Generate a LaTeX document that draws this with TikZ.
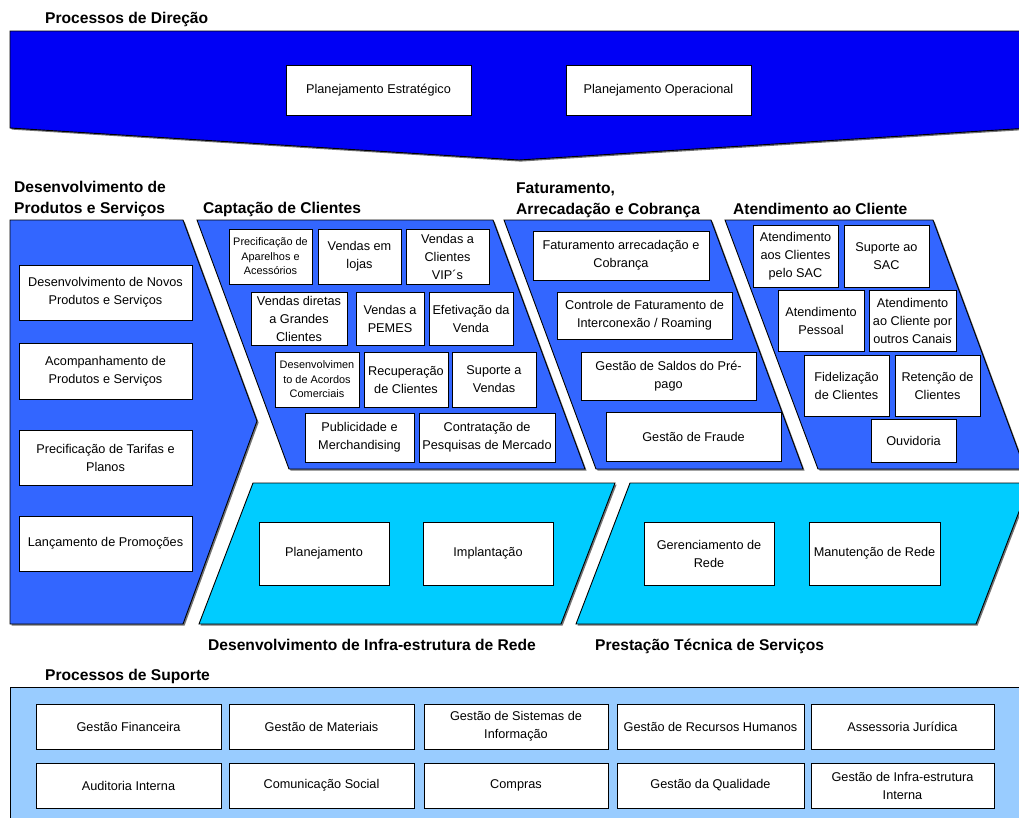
\documentclass[tikz,border=0pt]{standalone}
\usepackage{fontspec}
\setmainfont{Liberation Sans}
\usetikzlibrary{shadows}

\definecolor{dirblue}{RGB}{0,0,245}
\definecolor{midblue}{RGB}{51,102,255}
\definecolor{netcyan}{RGB}{0,204,255}
\definecolor{suplight}{RGB}{153,204,255}

\newcommand\boxfont{\fontsize{12.7}{18}\selectfont}
\newcommand\smallboxfont{\fontsize{10.9}{14.5}\selectfont}
\newcommand\titlefont{\bfseries\fontsize{15.6}{21}\selectfont}

% box given by its corners: [style] name, x1, y1, x2, y2, text
\newcommand\pbox[7][]{%
  \node[procbox,#1,minimum width={#5-#3},minimum height={#6-#4}]
    (#2) at ({(#3+#5)/2},{(#4+#6)/2}) {#7};}

\begin{document}
\begin{tikzpicture}[x=1pt,y=-1pt,
  procbox/.style={draw=black,line width=0.8pt,fill=white,inner sep=1pt,
    align=center,font=\boxfont,
    drop shadow={shadow xshift=1.2pt,shadow yshift=-1.2pt,fill=black,opacity=0.6}},
  small/.style={font=\smallboxfont},
  region/.style={draw=black,line width=0.9pt,
    drop shadow={shadow xshift=1.6pt,shadow yshift=-1.6pt,fill=black,opacity=0.55}},
  heading/.style={anchor=base west,inner sep=0pt,font=\titlefont}]
\useasboundingbox (0,0) rectangle (1019,817);
\clip (0,0) rectangle (1019,817);

% ---------- direction processes ----------
\node[heading] (tdir) at (45,23) {Processos de Direção};
\path[region,fill=dirblue] (10,31) -- (1030,31) -- (1030,128) -- (519,160) -- (10,128) -- cycle;
\pbox{pe}{286}{65}{471}{115}{Planejamento Estratégico}
\pbox{po}{566}{65}{751}{115}{Planejamento Operacional}

% ---------- core process headings ----------
\node[heading] (tdps1) at (14,192) {Desenvolvimento de};
\node[heading] (tdps2) at (14,213) {Produtos e Serviços};
\node[heading] (tcap) at (203,213) {Captação de Clientes};
\node[heading] (tfat1) at (516,193) {Faturamento,};
\node[heading] (tfat2) at (516,214) {Arrecadação e Cobrança};
\node[heading] (tate) at (733,214) {Atendimento ao Cliente};

% ---------- core process regions ----------
\path[region,fill=midblue] (10,220) -- (183,220) -- (257,421) -- (183,624) -- (10,624) -- cycle;
\path[region,fill=midblue] (197,220) -- (493,220) -- (585,469) -- (289,469) -- cycle;
\path[region,fill=midblue] (504,220) -- (711,220) -- (803,469) -- (596,469) -- cycle;
\path[region,fill=midblue] (725,220) -- (933,220) -- (1025,469) -- (818,469) -- cycle;
\path[region,fill=netcyan] (253,483) -- (615,483) -- (561,624) -- (199,624) -- cycle;
\path[region,fill=netcyan] (630,483) -- (1030,483) -- (976,624) -- (576,624) -- cycle;

% products and services
\pbox{dn}{19}{265}{192}{320}{Desenvolvimento de Novos\\Produtos e Serviços}
\pbox{ac}{19}{343}{192}{399}{Acompanhamento de\\Produtos e Serviços}
\pbox{pt}{19}{430}{192}{485}{Precificação de Tarifas e\\Planos}
\pbox{lp}{19}{516}{192}{571}{Lançamento de Promoções}

% customer acquisition
\pbox[small]{pa}{229}{229}{312}{284}{Precificação de\\Aparelhos e\\Acessórios}
\pbox{vl}{318}{229}{401}{284}{Vendas em\\lojas}
\pbox{vv}{406}{229}{489}{284}{Vendas a\\Clientes\\VIP´s}
\pbox{vd}{251}{292}{347}{345}{Vendas diretas\\a Grandes\\Clientes}
\pbox{vp}{356}{292}{424}{345}{Vendas a\\PEMES}
\pbox{ev}{429}{292}{513}{345}{Efetivação da\\Venda}
\pbox[small]{da}{275}{352}{359}{407}{Desenvolvimen\\to de Acordos\\Comerciais}
\pbox{rc}{364}{352}{448}{407}{Recuperação\\de Clientes}
\pbox{sv}{452}{352}{536}{407}{Suporte a\\Vendas}
\pbox{pm}{305}{413}{414}{462}{Publicidade e\\Merchandising}
\pbox{cp}{419}{413}{555}{462}{Contratação de\\Pesquisas de Mercado}

% billing and collection
\pbox{fa}{533}{231}{709}{280}{Faturamento arrecadação e\\Cobrança}
\pbox{cf}{557}{292}{732}{339}{Controle de Faturamento de\\Interconexão / Roaming}
\pbox{gs}{581}{352}{756}{400}{Gestão de Saldos do Pré-\\pago}
\pbox{gf}{606}{412}{781}{461}{Gestão de Fraude}

% customer service
\pbox{as}{753}{225}{838}{287}{Atendimento\\aos Clientes\\pelo SAC}
\pbox{ss}{844}{225}{929}{287}{Suporte ao\\SAC}
\pbox{ap}{778}{290}{864}{351}{Atendimento\\Pessoal}
\pbox{ao}{869}{290}{956}{351}{Atendimento\\ao Cliente por\\outros Canais}
\pbox{fc}{804}{355}{889}{416}{Fidelização\\de Clientes}
\pbox{rt}{895}{355}{980}{416}{Retenção de\\Clientes}
\pbox{ov}{871}{419}{956}{462}{Ouvidoria}

% network infrastructure and technical services
\pbox{pl}{259}{522}{389}{585}{Planejamento}
\pbox{im}{423}{522}{553}{585}{Implantação}
\pbox{gr}{644}{522}{774}{585}{Gerenciamento de\\Rede}
\pbox{mr}{809}{522}{940}{585}{Manutenção de Rede}
\node[heading] (tinf) at (208,650) {Desenvolvimento de Infra-estrutura de Rede};
\node[heading] (tpst) at (595,650) {Prestação Técnica de Serviços};

% ---------- support processes ----------
\node[heading] (tsup) at (45,680) {Processos de Suporte};
\path[region,fill=suplight] (10,687) rectangle (1030,830);
\pbox{s1}{36}{704}{221}{749}{Gestão Financeira}
\pbox{s2}{229}{704}{414}{749}{Gestão de Materiais}
\pbox{s3}{424}{704}{608}{749}{Gestão de Sistemas de\\Informação}
\pbox{s4}{617}{704}{804}{749}{Gestão de Recursos Humanos}
\pbox{s5}{811}{704}{994}{749}{Assessoria Jurídica}
\pbox{s6}{36}{763}{221}{808}{Auditoria Interna}
\pbox{s7}{229}{763}{414}{808}{Comunicação Social}
\pbox{s8}{424}{763}{608}{808}{Compras}
\pbox{s9}{617}{763}{804}{808}{Gestão da Qualidade}
\pbox{s10}{811}{763}{994}{808}{Gestão de Infra-estrutura\\Interna}
\end{tikzpicture}
\end{document}
